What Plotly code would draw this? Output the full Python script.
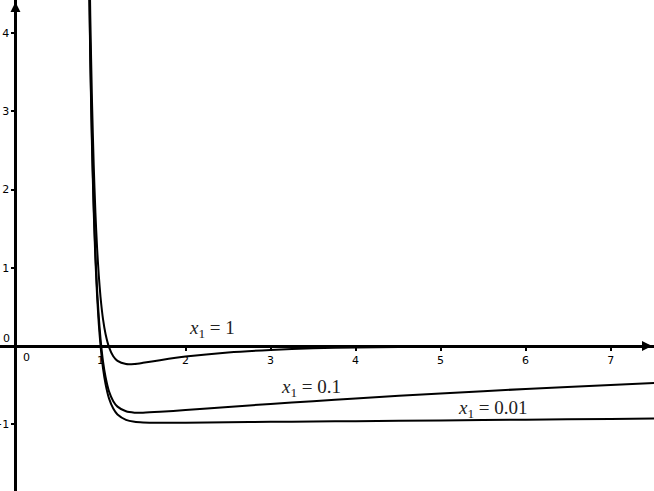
import plotly.graph_objects as go

# sample points (x, then y for each parameter value)
x_vals = [0.86, 0.88, 0.90, 0.92, 0.94, 0.96, 0.98, 1.00, 1.03, 1.06, 1.10, 1.15,
          1.20, 1.30, 1.40, 1.50, 1.70, 2.0, 2.5, 3.0, 3.5, 4.0, 5.0, 6.0, 7.0, 7.6]

y_x1_1 = [5.69, 4.22, 3.13, 2.32, 1.71, 1.25, 0.90, 0.63, 0.34, 0.15, -0.014, -0.13,
          -0.19, -0.23, -0.229, -0.215, -0.181, -0.135, -0.082, -0.050, -0.030, -0.018,
          -0.007, -0.003, -0.001, -0.0005]

y_x1_01 = [5.19, 3.72, 2.63, 1.81, 1.19, 0.72, 0.37, 0.095, -0.20, -0.40, -0.58, -0.705,
           -0.775, -0.835, -0.852, -0.853, -0.842, -0.818, -0.779, -0.741, -0.705, -0.670,
           -0.607, -0.549, -0.497, -0.468]

y_x1_001 = [5.12, 3.65, 2.55, 1.73, 1.11, 0.64, 0.28, 0.01, -0.29, -0.49, -0.67, -0.80,
            -0.876, -0.944, -0.969, -0.977, -0.981, -0.980, -0.975, -0.970, -0.966, -0.961,
            -0.951, -0.942, -0.932, -0.927]

x_ticks = [1, 2, 3, 4, 5, 6, 7]
y_ticks = [-1, 1, 2, 3, 4]

curve_labels = ["<i>x</i><sub>1</sub> = 1", "<i>x</i><sub>1</sub> = 0.1", "<i>x</i><sub>1</sub> = 0.01"]
label_pos = [(2.31, 0.22), (3.47, -0.54), (5.62, -0.81)]

x_range = [-0.182, 7.51]
y_range = [-1.854, 4.425]

fig = go.Figure()
for ys in (y_x1_1, y_x1_01, y_x1_001):
    fig.add_trace(go.Scatter(x=x_vals, y=ys, mode="lines",
                             line=dict(color="black", width=2, shape="spline", smoothing=0.6),
                             showlegend=False, hoverinfo="skip"))

# curve captions
for txt, (lx, ly) in zip(curve_labels, label_pos):
    fig.add_annotation(x=lx, y=ly, text=txt, showarrow=False,
                       font=dict(family="Liberation Serif", size=19, color="#222"))

# origin labels
fig.add_annotation(x=0, y=0, text="0", showarrow=False, xanchor="left", yanchor="top",
                   xshift=6, yshift=-3, font=dict(family="DejaVu Sans", size=11, color="black"))
fig.add_annotation(x=0, y=0, text="0", showarrow=False, xanchor="right", yanchor="bottom",
                   xshift=-3, yshift=-1, font=dict(family="DejaVu Sans", size=11, color="black"))

# small axis arrowheads
fig.add_annotation(x=1, xref="paper", y=0, yref="y", ax=-8, ay=0, text="",
                   showarrow=True, arrowhead=2, arrowsize=0.8, arrowwidth=2.5, arrowcolor="black",
                   standoff=1)
fig.add_annotation(x=0, xref="x", y=1, yref="paper", ax=0, ay=8, text="",
                   showarrow=True, arrowhead=2, arrowsize=0.8, arrowwidth=2.5, arrowcolor="black",
                   standoff=1)

x_zero_pos = -y_range[0] / (y_range[1] - y_range[0])
y_zero_pos = -x_range[0] / (x_range[1] - x_range[0])

tick_font = dict(family="DejaVu Sans", size=11, color="black")

fig.update_layout(
    width=654, height=491,
    margin=dict(l=0, r=0, t=0, b=0),
    paper_bgcolor="white", plot_bgcolor="white",
    xaxis=dict(range=x_range, anchor="free", position=x_zero_pos,
               showline=True, linecolor="black", linewidth=3,
               showgrid=False, zeroline=False,
               tickvals=x_ticks, ticks="outside", ticklen=3, tickwidth=2, tickcolor="black",
               tickfont=tick_font, automargin=False, fixedrange=True),
    yaxis=dict(range=y_range, anchor="free", position=y_zero_pos,
               showline=True, linecolor="black", linewidth=3,
               showgrid=False, zeroline=False,
               tickvals=y_ticks, ticks="outside", ticklen=3, tickwidth=2, tickcolor="black",
               tickfont=tick_font, automargin=False, fixedrange=True),
)

fig.write_html("out.html", config={"displayModeBar": False},
               post_script="document.body.style.margin='0';")
